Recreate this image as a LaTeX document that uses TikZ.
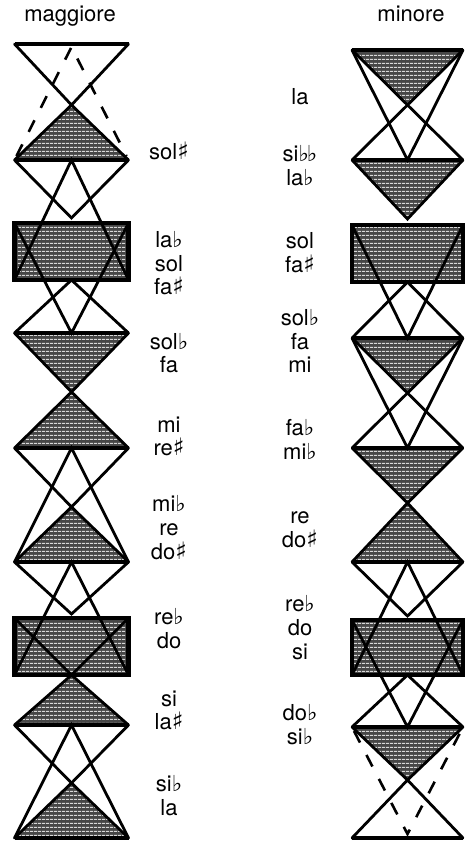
\documentclass[tikz,border=0pt]{standalone}
\usepackage{fontspec}
\usetikzlibrary{patterns.meta}
\setmainfont{TeX Gyre Heros}
\newfontfamily\symfont{DejaVu Sans}
\newcommand{\myflat}{{\symfont\bfseries\fontsize{22}{22}\selectfont ♭}}
\newcommand{\mysharp}{{\symfont\bfseries\fontsize{24}{24}\selectfont ♯}}
\begin{document}
\begin{tikzpicture}[x=1pt,y=-1pt,
  side/.style={line width=2.8pt,line join=miter,line cap=round},
  baseline/.style={line width=4.2pt},
  shade/.style={fill=black!72,postaction={pattern={Lines[angle=0,distance=4pt,line width=1.3pt]},pattern color=white!85!black}},
  dashside/.style={line width=2.6pt,dash pattern=on 13pt off 14pt},
  lbl/.style={font=\fontsize{22}{24}\selectfont,inner sep=0pt,anchor=mid},
  ttl/.style={font=\fontsize{22}{24}\selectfont,inner sep=0pt,anchor=mid}]
\useasboundingbox (0,0) rectangle (469,847);
\fill[white] (0,0) rectangle (469,847);

% ================= maggiore =================
\def\xl{14.5}\def\xc{71.5}\def\xr{128.5}
\path[shade] (\xl,160)--(\xc,105)--(\xr,160)--cycle;
\path[shade] (\xl,223) rectangle (\xr,280);
\path[shade] (\xl,333)--(\xc,392)--(\xr,333)--cycle;
\path[shade] (\xl,448)--(\xc,392)--(\xr,448)--cycle;
\path[shade] (\xl,562)--(\xc,507)--(\xr,562)--cycle;
\path[shade] (\xl,618) rectangle (\xr,675);
\path[shade] (\xl,725)--(\xc,675)--(\xr,725)--cycle;
\path[shade] (\xl,838)--(\xc,783)--(\xr,838)--cycle;

\draw[side] (\xl,44)--(\xc,105)--(\xr,44);
\draw[side] (\xl,160)--(\xc,105)--(\xr,160);
\draw[side] (\xl,160)--(\xc,218)--(\xr,160);
\draw[side] (\xl,280)--(\xc,160)--(\xr,280);
\draw[side] (\xl,223)--(\xc,333)--(\xr,223);
\draw[side] (\xl,333)--(\xc,280)--(\xr,333);
\draw[side] (\xl,333)--(\xc,392)--(\xr,333);
\draw[side] (\xl,448)--(\xc,392)--(\xr,448);
\draw[side] (\xl,448)--(\xc,507)--(\xr,448);
\draw[side] (\xl,562)--(\xc,448)--(\xr,562);
\draw[side] (\xl,562)--(\xc,507)--(\xr,562);
\draw[side] (\xl,562)--(\xc,614)--(\xr,562);
\draw[side] (\xl,675)--(\xc,562)--(\xr,675);
\draw[side] (\xl,618)--(\xc,675)--(\xr,618);
\draw[side] (\xl,725)--(\xc,675)--(\xr,725);
\draw[side] (\xl,725)--(\xc,783)--(\xr,725);
\draw[side] (\xl,838)--(\xc,725)--(\xr,838);
\draw[side] (\xl,838)--(\xc,783)--(\xr,838);
\draw[dashside] (\xl+2,156)--(\xc,47)--(\xr-2,156);
\foreach \y in {44,160,333,448,562,725,838}{\draw[baseline] (\xl,\y)--(\xr,\y);}
\draw[baseline] (\xl,223) rectangle (\xr,280);
\draw[baseline] (\xl,618) rectangle (\xr,675);

% ================= minore =================
\def\xl{352}\def\xc{407.5}\def\xr{463}
\path[shade] (\xl,50)--(\xc,105)--(\xr,50)--cycle;
\path[shade] (\xl,160)--(\xc,219)--(\xr,160)--cycle;
\path[shade] (\xl,225) rectangle (\xr,282);
\path[shade] (\xl,338)--(\xc,393)--(\xr,338)--cycle;
\path[shade] (\xl,448)--(\xc,503)--(\xr,448)--cycle;
\path[shade] (\xl,562)--(\xc,503)--(\xr,562)--cycle;
\path[shade] (\xl,620) rectangle (\xr,675);
\path[shade] (\xl,727)--(\xc,780)--(\xr,727)--cycle;

\draw[side] (\xl,50)--(\xc,105)--(\xr,50);
\draw[side] (\xl,50)--(\xc,160)--(\xr,50);
\draw[side] (\xl,160)--(\xc,105)--(\xr,160);
\draw[side] (\xl,160)--(\xc,219)--(\xr,160);
\draw[side] (\xl,225)--(\xc,338)--(\xr,225);
\draw[side] (\xl,338)--(\xc,282)--(\xr,338);
\draw[side] (\xl,338)--(\xc,393)--(\xr,338);
\draw[side] (\xl,338)--(\xc,448)--(\xr,338);
\draw[side] (\xl,448)--(\xc,393)--(\xr,448);
\draw[side] (\xl,448)--(\xc,503)--(\xr,448);
\draw[side] (\xl,562)--(\xc,503)--(\xr,562);
\draw[side] (\xl,562)--(\xc,616)--(\xr,562);
\draw[side] (\xl,675)--(\xc,562)--(\xr,675);
\draw[side] (\xl,620)--(\xc,727)--(\xr,620);
\draw[side] (\xl,727)--(\xc,675)--(\xr,727);
\draw[side] (\xl,727)--(\xc,780)--(\xr,727);
\draw[side] (\xl,838)--(\xc,780)--(\xr,838);
\draw[dashside] (\xl+2,731)--(\xc,834)--(\xr-2,731);
\foreach \y in {50,160,338,448,562,727,838}{\draw[baseline] (\xl,\y)--(\xr,\y);}
\draw[baseline] (\xl,225) rectangle (\xr,282);
\draw[baseline] (\xl,620) rectangle (\xr,675);

% ================= titles =================
\node[ttl] (tmag) at (70,19) {maggiore};
\node[ttl] (tmin) at (411,19) {minore};

% ================= labels maggiore =================
\node[lbl] (a1) at (169,157) {sol\mysharp};
\node[lbl] (a2) at (169,245) {la\myflat};
\node[lbl] (a3) at (169,269) {sol};
\node[lbl] (a4) at (169,292) {fa\mysharp};
\node[lbl] (a5) at (169,347) {sol\myflat};
\node[lbl] (a6) at (169,370) {fa};
\node[lbl] (a7) at (169,430) {mi};
\node[lbl] (a8) at (169,453) {re\mysharp};
\node[lbl] (a9) at (169,509) {mi\myflat};
\node[lbl] (a10) at (169,533) {re};
\node[lbl] (a11) at (169,557) {do\mysharp};
\node[lbl] (a12) at (169,622) {re\myflat};
\node[lbl] (a13) at (169,646) {do};
\node[lbl] (a14) at (169,704) {si};
\node[lbl] (a15) at (169,727) {la\mysharp};
\node[lbl] (a16) at (169,789) {si\myflat};
\node[lbl] (a17) at (169,813) {la};

% ================= labels minore =================
\node[lbl] (b1) at (300,102) {la};
\node[lbl] (b2) at (300,159) {si\myflat\kern-2pt\myflat};
\node[lbl] (b3) at (300,183) {la\myflat};
\node[lbl] (b4) at (300,246) {sol};
\node[lbl] (b5) at (300,270) {fa\mysharp};
\node[lbl] (b6) at (300,323) {sol\myflat};
\node[lbl] (b7) at (300,347) {fa};
\node[lbl] (b8) at (300,370) {mi};
\node[lbl] (b9) at (300,433) {fa\myflat};
\node[lbl] (b10) at (300,457) {mi\myflat};
\node[lbl] (b11) at (300,521) {re};
\node[lbl] (b12) at (300,545) {do\mysharp};
\node[lbl] (b13) at (300,609) {re\myflat};
\node[lbl] (b14) at (300,633) {do};
\node[lbl] (b15) at (300,657) {si};
\node[lbl] (b16) at (300,718) {do\myflat};
\node[lbl] (b17) at (300,742) {si\myflat};
\end{tikzpicture}
\end{document}
